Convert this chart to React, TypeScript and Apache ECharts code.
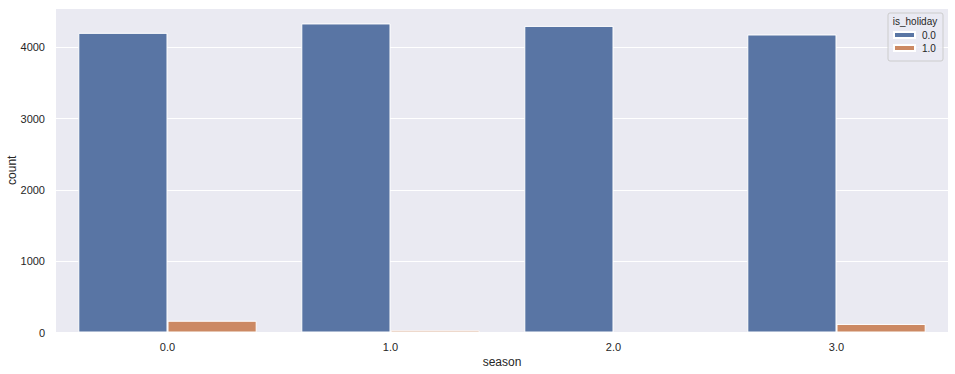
import React, { useEffect, useRef } from "react";
import * as echarts from "echarts";

const seasons = ["0.0", "1.0", "2.0", "3.0"];
const holidayLevels = ["0.0", "1.0"];
const countNotHoliday = [4205, 4337, 4303, 4182];
const countHoliday = [165, 30, 0, 120];
const yTicks = [0, 1000, 2000, 3000, 4000];
const colors = ["#5975a4", "#cc8963"];

export default function App() {
  const ref = useRef<HTMLDivElement>(null);
  useEffect(() => {
    if (!ref.current) return;
    const chart = echarts.init(ref.current, undefined, { renderer: "svg" });
    const font = "Arial, 'Liberation Sans', sans-serif";
    const yMax = Math.max(...countNotHoliday, ...countHoliday) * 1.05;
    chart.setOption({
      animation: false,
      textStyle: { fontFamily: font },
      grid: {
        left: 56,
        top: 8,
        right: 7,
        bottom: 41.5,
        show: true,
        backgroundColor: "#eaeaf2",
        borderWidth: 0,
        containLabel: false,
        outerBoundsMode: "none",
      },
      legend: {
        orient: "vertical",
        left: 893,
        top: 30,
        padding: 0,
        z: 5,
        itemWidth: 21,
        itemHeight: 6,
        itemGap: 3,
        icon: "rect",
        data: holidayLevels,
        textStyle: { fontSize: 10, color: "#262626", fontFamily: font, padding: [0, 0, 0, 2] },
        selectedMode: false,
      },
      graphic: [
        {
          type: "rect",
          z: 3,
          shape: { x: 888, y: 13, width: 55, height: 48, r: 2 },
          style: { fill: "rgba(234,234,242,0.8)", stroke: "#cccccc", lineWidth: 1 },
          silent: true,
        },
        {
          type: "text",
          z: 4,
          x: 915,
          y: 21,
          style: {
            text: "is_holiday",
            fontSize: 10,
            fill: "#262626",
            fontFamily: font,
            align: "center",
            verticalAlign: "middle",
          },
          silent: true,
        },
      ],
      xAxis: {
        type: "category",
        data: seasons,
        name: "season",
        nameLocation: "middle",
        nameGap: 23,
        nameMoveOverlap: false,
        nameTextStyle: { fontSize: 12, color: "#262626", fontFamily: font },
        axisLine: { show: false },
        axisTick: { show: false },
        axisLabel: { fontSize: 11, color: "#262626", margin: 9, fontFamily: font },
        splitLine: { show: false },
      },
      yAxis: {
        type: "value",
        min: 0,
        max: yMax,
        interval: 1000,
        name: "count",
        nameLocation: "middle",
        nameGap: 38,
        nameMoveOverlap: false,
        nameTextStyle: { fontSize: 12, color: "#262626", fontFamily: font },
        axisLine: { show: false },
        axisTick: { show: false },
        axisLabel: {
          fontSize: 11,
          color: "#262626",
          margin: 11,
          fontFamily: font,
          showMaxLabel: false,
          formatter: (v: number) => (yTicks.includes(v) ? String(v) : ""),
        },
        splitLine: { show: true, lineStyle: { color: "#ffffff", width: 1 } },
      },
      series: [
        {
          name: holidayLevels[0],
          type: "bar",
          data: countNotHoliday,
          barGap: "0%",
          barCategoryGap: "20%",
          itemStyle: { color: colors[0], borderColor: "#ffffff", borderWidth: 1 },
        },
        {
          name: holidayLevels[1],
          type: "bar",
          data: countHoliday,
          barGap: "0%",
          barCategoryGap: "20%",
          itemStyle: { color: colors[1], borderColor: "#ffffff", borderWidth: 1 },
        },
      ],
    });
    return () => chart.dispose();
  }, []);
  return <div ref={ref} style={{ width: 955, height: 374, position: "absolute", left: 0, top: 0 }} />;
}
